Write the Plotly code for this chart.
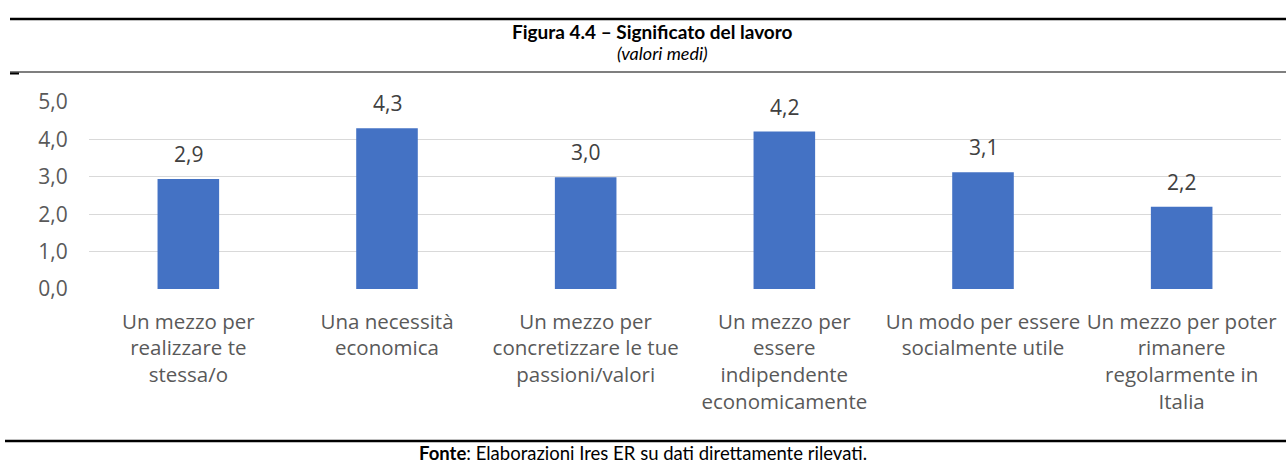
import plotly.graph_objects as go

categorie = [
    "Un mezzo per<br>realizzare te<br>stessa/o",
    "Una necessità<br>economica",
    "Un mezzo per<br>concretizzare le tue<br>passioni/valori",
    "Un mezzo per<br>essere<br>indipendente<br>economicamente",
    "Un modo per essere<br>socialmente utile",
    "Un mezzo per poter<br>rimanere<br>regolarmente in<br>Italia",
]
valori_medi = [2.94, 4.3, 2.99, 4.21, 3.12, 2.2]
tick_y = [0, 1, 2, 3, 4, 5]

W, H = 1286, 463
T, B, L, R = 102, 174, 89, 5
ph = H - T - B
pw = W - L - R


def py(y):
    # pixel row -> paper y
    return (H - B - y) / ph


def px_(x):
    return (x - L) / pw


fig = go.Figure()
fig.add_trace(go.Bar(
    x=categorie, y=valori_medi,
    marker=dict(color="#4472C4", line=dict(width=0)),
    hoverinfo="skip",
))

for c, v in zip(categorie, valori_medi):
    fig.add_annotation(x=c, y=v, xref="x", yref="y", text=f"{v:.1f}".replace(".", ","),
                       showarrow=False, yanchor="middle", yshift=25,
                       font=dict(family="Open Sans", size=21, color="#404040"))

fig.add_annotation(x=px_(652), xref="paper", y=py(31), yref="paper",
                   text="<b>Figura 4.4 – Significato del lavoro</b>", showarrow=False,
                   yanchor="middle", font=dict(family="Lato", size=19, color="black"))
fig.add_annotation(x=px_(662), xref="paper", y=py(53), yref="paper",
                   text="<i>(valori medi)</i>", showarrow=False,
                   yanchor="middle", font=dict(family="Lato", size=18, color="black"))
fig.add_annotation(x=px_(643), xref="paper", y=py(453), yref="paper",
                   text="<b>Fonte</b>: Elaborazioni Ires ER su dati direttamente rilevati.",
                   showarrow=False, yanchor="middle",
                   font=dict(family="Lato", size=18.5, color="black"))

linee = [(19, 2.5, 10), (72, 1.2, 10), (441, 2.5, 5)]
for y, w, x0 in linee:
    fig.add_shape(type="line", xref="paper", yref="paper",
                  x0=px_(x0), x1=px_(W), y0=py(y), y1=py(y),
                  line=dict(color="black", width=w))
fig.add_shape(type="line", xref="paper", yref="paper",
              x0=px_(10), x1=px_(19), y0=py(73.5), y1=py(73.5),
              line=dict(color="black", width=2))

fig.update_layout(
    width=W, height=H,
    margin=dict(l=L, r=R, t=T, b=B, autoexpand=False),
    paper_bgcolor="white", plot_bgcolor="white",
    bargap=0.69, showlegend=False,
    separators=",.",
    font=dict(family="Open Sans", size=20, color="#595959"),
)
fig.update_xaxes(
    tickangle=0, showgrid=False, showline=False,
    ticks="outside", ticklen=14, tickcolor="rgba(0,0,0,0)",
    tickfont=dict(family="Open Sans", size=20.5, color="#595959"),
)
fig.update_yaxes(
    range=[0, 5], tickvals=tick_y, tickformat=".1f",
    showgrid=True, gridcolor="#d9d9d9", gridwidth=1,
    zeroline=False, showline=False,
    ticks="outside", ticklen=16, tickcolor="rgba(0,0,0,0)",
    tickfont=dict(family="Open Sans", size=21, color="#595959"),
)

fig.write_html("out.html", config={"displayModeBar": False},
               post_script="document.body.style.margin='0';")
